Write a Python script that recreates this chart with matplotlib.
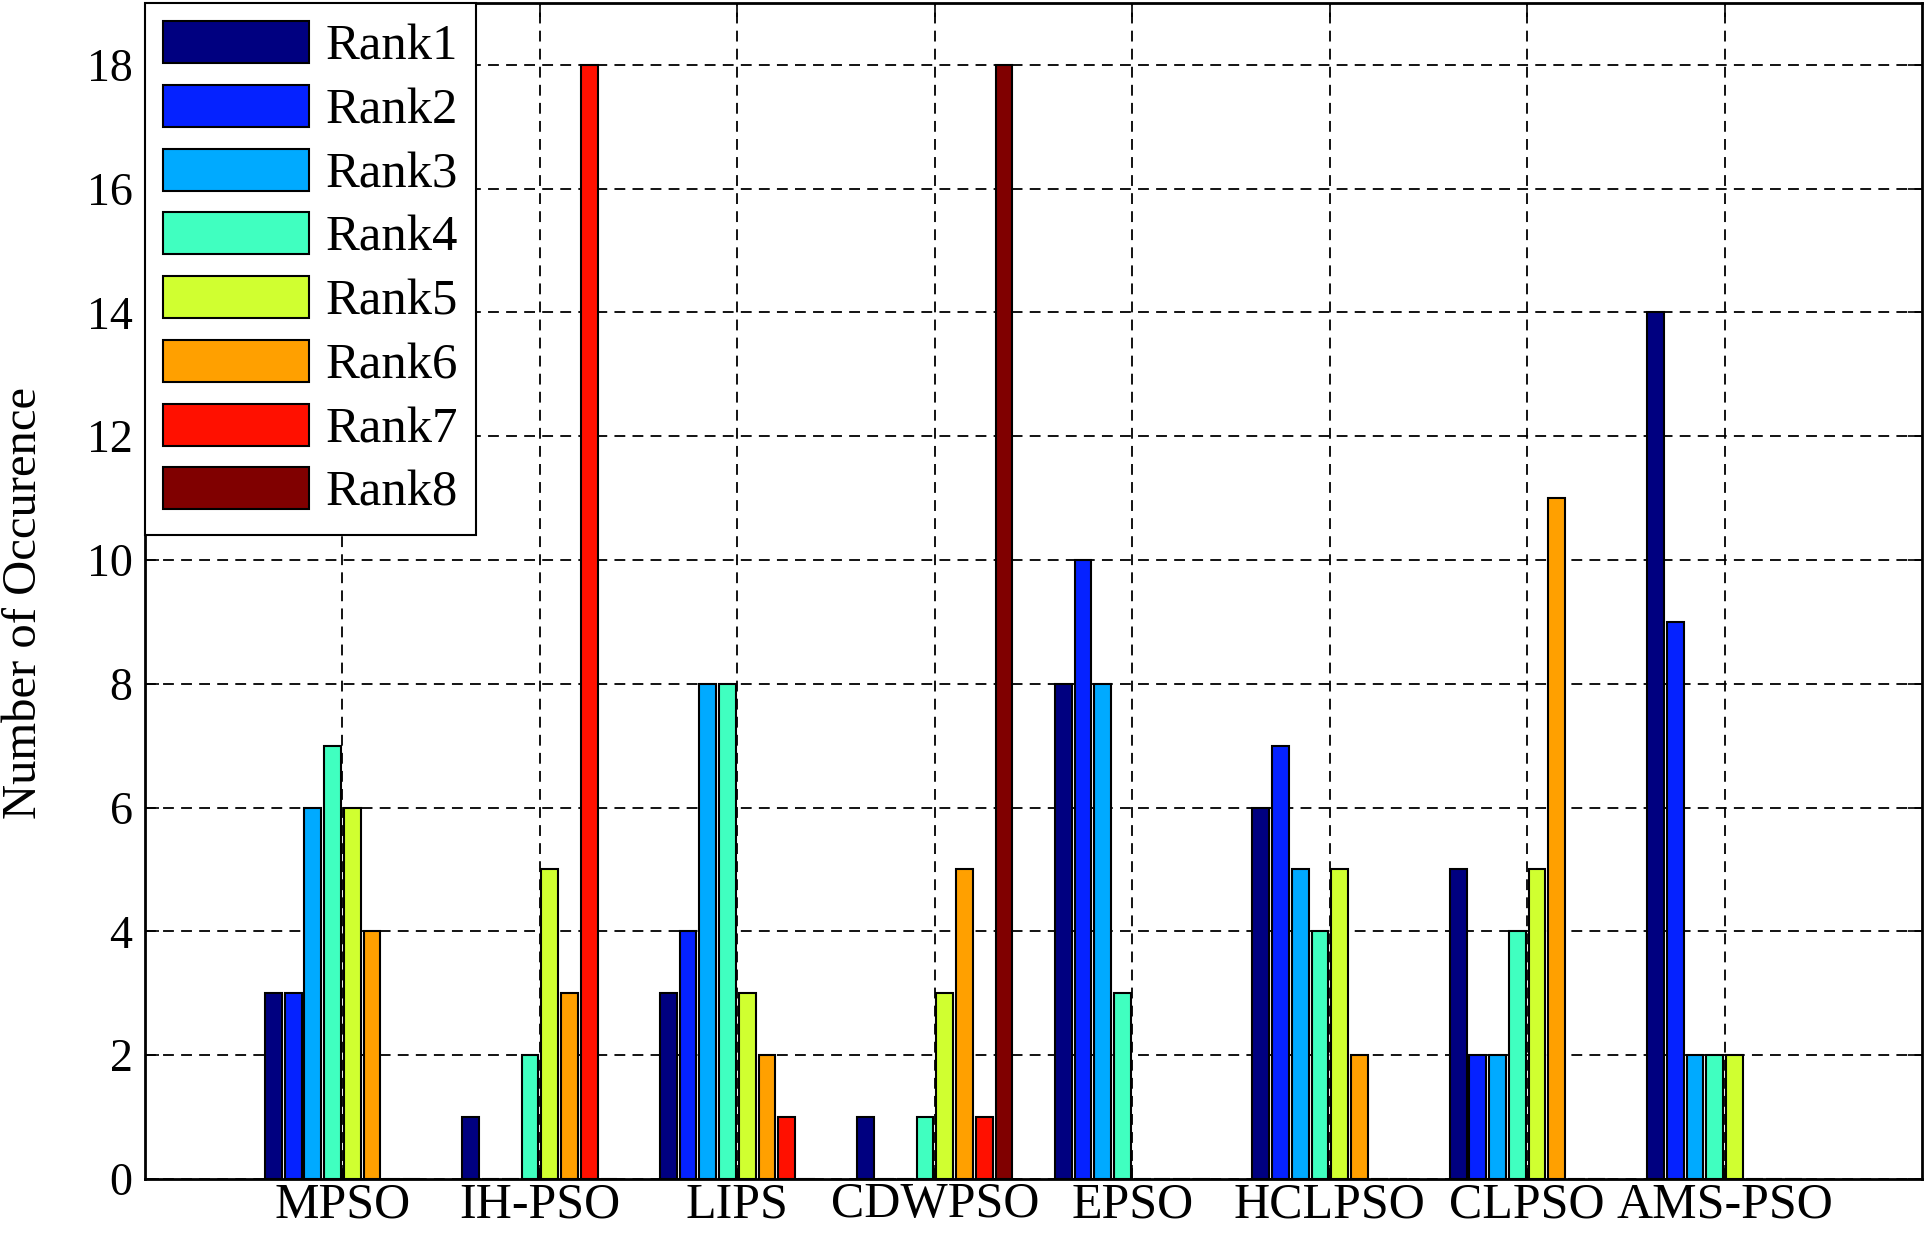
import numpy as np
import matplotlib
matplotlib.use('Agg')
import matplotlib.pyplot as plt

# values
algorithms = ['MPSO', 'IH-PSO', 'LIPS', 'CDWPSO', 'EPSO', 'HCLPSO', 'CLPSO', 'AMS-PSO']
rank_names = ['Rank1', 'Rank2', 'Rank3', 'Rank4', 'Rank5', 'Rank6', 'Rank7', 'Rank8']
rank1 = [3, 1, 3, 1, 8, 6, 5, 14]
rank2 = [3, 0, 4, 0, 10, 7, 2, 9]
rank3 = [6, 0, 8, 0, 8, 5, 2, 2]
rank4 = [7, 2, 8, 1, 3, 4, 4, 2]
rank5 = [6, 5, 3, 3, 0, 5, 5, 2]
rank6 = [4, 3, 2, 5, 0, 2, 11, 0]
rank7 = [0, 18, 1, 1, 0, 0, 0, 0]
rank8 = [0, 0, 0, 18, 0, 0, 0, 0]

colors = ['#000080', '#0522ff', '#00aaff', '#40ffc0', '#d0ff30', '#ffa000', '#ff1000', '#800000']

plt.rcParams['font.family'] = ['Liberation Serif', 'DejaVu Serif']

fig = plt.figure(figsize=(19.26, 12.38), dpi=100)
ax = fig.add_axes([0.0753, 0.0477, 0.9227, 0.9499])

series = [rank1, rank2, rank3, rank4, rank5, rank6, rank7, rank8]
x = np.arange(1, len(algorithms) + 1)
slot = 0.8 / len(series)
for i, vals in enumerate(series):
    ax.bar(x + (i - 3.5) * slot, vals, width=slot * 0.85, color=colors[i],
           edgecolor='black', linewidth=1.5, label=rank_names[i], zorder=3)

ax.set_xlim(0, 9)
ax.set_ylim(0, 19)
ax.set_xticks(x)
ax.set_xticklabels(algorithms, fontsize=36)
ax.set_yticks(np.arange(0, 19, 2))
ax.tick_params(axis='y', labelsize=33, direction='in', length=10, width=1.2,
               right=True, pad=9)
ax.tick_params(axis='x', direction='in', length=10, width=1.2, top=True, pad=2)

ax.grid(True, color='black', linestyle=(0, (6, 4)), linewidth=1.3, zorder=1)
ax.set_axisbelow(True)
for s in ax.spines.values():
    s.set_linewidth(2)

ax.set_ylabel('Number of Occurence', fontsize=35)
ax.yaxis.set_label_coords(-0.056, 0.49)

leg = ax.legend(loc='upper left', fontsize=36.5, frameon=True, fancybox=False,
                borderaxespad=0, handlelength=2.88, handleheight=0.9,
                labelspacing=0.28, borderpad=0.36, handletextpad=0.32)
leg.get_frame().set_edgecolor('black')
leg.get_frame().set_linewidth(1.5)
leg.get_frame().set_alpha(1)

fig.savefig('out.png', dpi=100)
